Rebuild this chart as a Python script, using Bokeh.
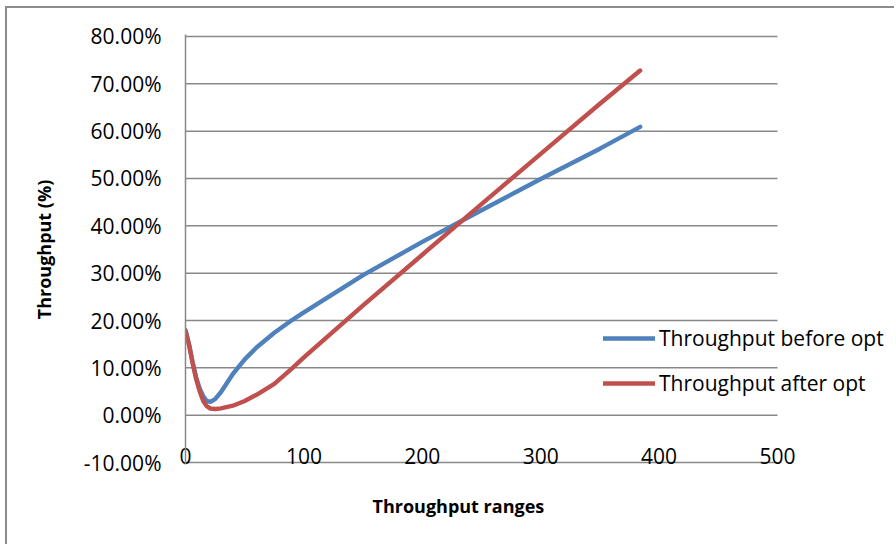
from bokeh.plotting import figure
from bokeh.models import (Range1d, FixedTicker, NumeralTickFormatter, Legend, LegendItem, Title)
from bokeh.embed import file_html
from bokeh.resources import INLINE

# ---- data ----
throughput_x = [0, 3, 6, 9, 12, 15, 18, 21, 25, 30, 40, 50, 60, 75, 90, 100,
                150, 200, 250, 300, 350, 384]
before_opt = [0.180, 0.150, 0.112, 0.080, 0.056, 0.040, 0.030, 0.028, 0.034, 0.049,
              0.087, 0.118, 0.143, 0.174, 0.201, 0.217,
              0.296, 0.366, 0.433, 0.499, 0.563, 0.609]
after_opt = [0.178, 0.148, 0.110, 0.076, 0.050, 0.030, 0.019, 0.014, 0.013, 0.0145,
             0.020, 0.030, 0.043, 0.066, 0.099, 0.122,
             0.232, 0.339, 0.446, 0.552, 0.658, 0.728]

series_names = ["Throughput before opt", "Throughput after opt"]
series_colors = ["#4F81BD", "#C0504D"]

x_ticks = [0, 100, 200, 300, 400, 500]
y_ticks = [-0.10, 0.0, 0.10, 0.20, 0.30, 0.40, 0.50, 0.60, 0.70, 0.80]

x_title = "Throughput ranges"
y_title = "Throughput (%)"

FONT = "Open Sans"
GRID = "#888888"
X_MAX = 500
PAD_Y = 0.0042   # keeps the outermost gridlines fully inside the frame

p = figure(width=889, height=538, output_backend="svg", toolbar_location=None,
           x_range=Range1d(0, X_MAX + 100.5),
           y_range=Range1d(y_ticks[0] - PAD_Y, y_ticks[-1] + PAD_Y),
           min_border_left=178, min_border_right=0, min_border_top=26,
           min_border_bottom=82,
           styles={"margin-left": "5px", "margin-top": "6px",
                   "border-left": "2px solid #8c8c8c",
                   "border-top": "2px solid #8c8c8c"})
p.outline_line_color = None
p.background_fill_color = "white"
p.border_fill_color = "white"

# horizontal gridlines, only across the 0..500 range like the reference
p.xgrid.grid_line_color = None
p.ygrid.grid_line_color = None
p.segment(x0=[0] * len(y_ticks), x1=[X_MAX] * len(y_ticks), y0=y_ticks, y1=y_ticks,
          line_color=GRID, line_width=1.5)

# axes
p.xaxis.ticker = FixedTicker(ticks=x_ticks)
p.yaxis.ticker = FixedTicker(ticks=y_ticks)
p.yaxis.formatter = NumeralTickFormatter(format="0.00%")
for ax in (p.xaxis[0], p.yaxis[0]):
    ax.axis_line_color = GRID
    ax.axis_line_width = 1.5
    ax.major_tick_line_color = None
    ax.minor_tick_line_color = None
    ax.major_tick_in = 0
    ax.major_tick_out = 0
    ax.major_label_text_font = FONT
    ax.major_label_text_font_size = "21px"
    ax.major_label_text_color = "black"
    ax.axis_label_text_font = FONT
    ax.axis_label_text_font_size = "18px"
    ax.axis_label_text_font_style = "bold"
    ax.axis_label_text_color = "black"

p.xaxis.axis_line_color = None   # the -10% gridline plays the axis line
p.xaxis.major_label_standoff = -17
p.yaxis.axis_label = y_title
p.yaxis.major_label_standoff = 24
p.yaxis.axis_label_standoff = 25

p.add_layout(Title(text=x_title, align="left", offset=187, text_font=FONT,
                   text_font_size="18px", text_font_style="bold",
                   text_color="black", standoff=50), "below")

# lines
r1 = p.line(throughput_x, before_opt, line_color=series_colors[0], line_width=4.4,
            line_cap="round", line_join="round")
r2 = p.line(throughput_x, after_opt, line_color=series_colors[1], line_width=4.4,
            line_cap="round", line_join="round")

legend = Legend(items=[LegendItem(label=series_names[0], renderers=[r1]),
                       LegendItem(label=series_names[1], renderers=[r2])],
                location=(418, 66), orientation="vertical",
                background_fill_alpha=0, border_line_color=None,
                label_text_font=FONT, label_text_font_size="21px",
                label_text_color="black",
                glyph_width=52, glyph_height=30, label_height=30,
                label_standoff=4, spacing=15, padding=0, margin=0)
p.add_layout(legend, "center")

open("out.html", "w").write(file_html(p, INLINE))
